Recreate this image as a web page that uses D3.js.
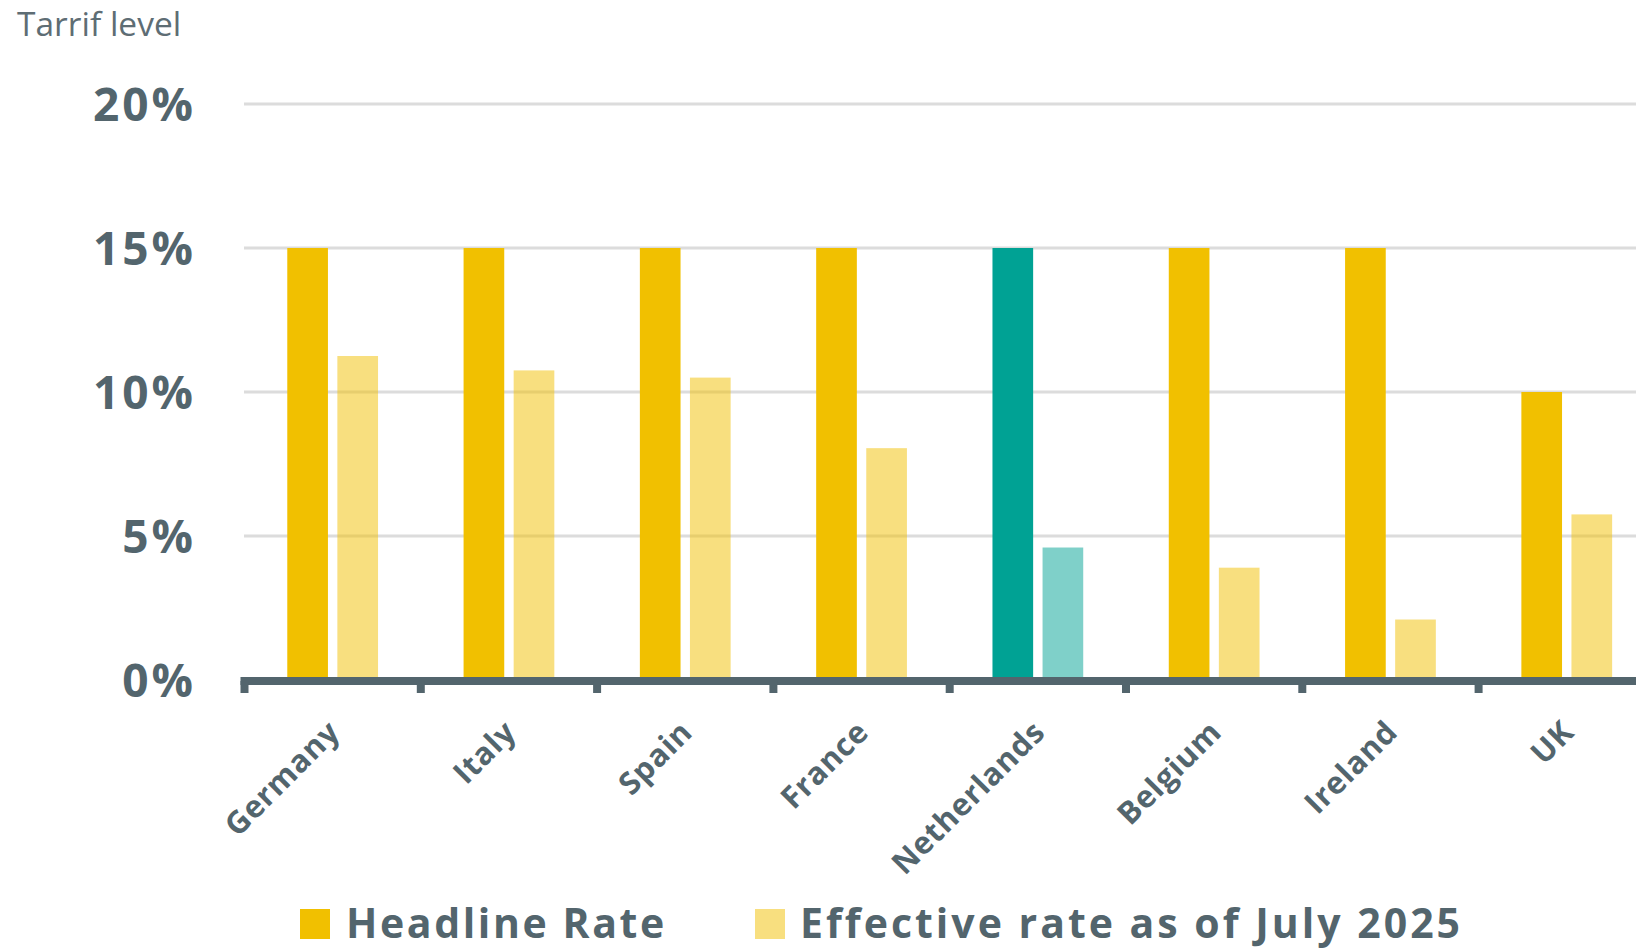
<!DOCTYPE html>
<html>
<head>
<meta charset="utf-8">
<script src="https://cdn.jsdelivr.net/npm/d3@7"></script>
<style>
  html, body { margin: 0; padding: 0; background: #fff; }
  svg { display: block; }
</style>
</head>
<body>
<svg width="1636" height="951"></svg>
<script>
/////////////////////////////////
// Tariff level bar chart.
//

const countries = ["Germany", "Italy", "Spain", "France", "Netherlands", "Belgium", "Ireland", "UK"];
const headlineRate = [15, 15, 15, 15, 15, 15, 15, 10];
const effectiveRate = [11.25, 10.75, 10.5, 8.05, 4.6, 3.9, 2.1, 5.75];
const seriesNames = ["Headline Rate", "Effective rate as of July 2025"];
const yTicks = [0, 5, 10, 15, 20];
const highlighted = "Netherlands";

document.addEventListener("DOMContentLoaded", () => {

    const svg = d3.select("svg");

    const textColor = "#53656d";
    const yellow = "#f1c000";
    const teal = "#00a294";

    // Scales.
    const y = d3.scaleLinear()
        .domain([0, 20])
        .range([680, 104]);

    const x0 = d3.scaleBand()
        .domain(countries)
        .range([244.5, 244.5 + countries.length * 176.3])
        .padding(0);

    const x1 = d3.scaleBand()
        .domain([0, 1])
        .range([0, x0.bandwidth()])
        .paddingInner(0.188)
        .paddingOuter(0.854);

    // Title.
    svg.append("text")
        .attr("x", 17)
        .attr("y", 36)
        .style("font-family", "'Open Sans', sans-serif")
        .style("font-size", "33.5px")
        .style("fill", "#5e6d74")
        .text("Tarrif level");

    // Grid lines.
    svg.append("g")
        .selectAll("line")
        .data(yTicks.filter((d) => d > 0))
        .enter()
        .append("line")
        .attr("x1", 244)
        .attr("x2", 1636)
        .attr("y1", (d) => y(d))
        .attr("y2", (d) => y(d))
        .style("stroke", "#dcdcdc")
        .style("stroke-width", 3);

    // Y tick labels.
    svg.append("g")
        .selectAll("text")
        .data(yTicks)
        .enter()
        .append("text")
        .attr("x", 196)
        .attr("y", (d) => y(d) + 17)
        .attr("text-anchor", "end")
        .style("font-family", "'Open Sans', sans-serif")
        .style("font-weight", "700")
        .style("font-size", "46px")
        .style("letter-spacing", "3px")
        .style("fill", textColor)
        .text((d) => d + "%");

    // Bars.
    const rows = countries.map((c, i) => ({
        country: c,
        values: [headlineRate[i], effectiveRate[i]]
    }));

    const groups = svg.append("g")
        .selectAll("g")
        .data(rows)
        .enter()
        .append("g")
        .attr("transform", (d) => "translate(" + x0(d.country) + ",0)");

    groups.selectAll("rect")
        .data((d) => d.values.map((v, k) => ({ country: d.country, k: k, v: v })))
        .enter()
        .append("rect")
        .attr("x", (d) => x1(d.k))
        .attr("width", x1.bandwidth())
        .attr("y", (d) => y(d.v))
        .attr("height", (d) => y(0) - y(d.v))
        .style("fill", (d) => d.country === highlighted ? teal : yellow)
        .style("fill-opacity", (d) => d.k === 0 ? 1 : 0.5);

    // X axis line and ticks at band edges.
    const axis = svg.append("g");
    axis.append("line")
        .attr("x1", x0.range()[0] - 4)
        .attr("x2", 1636)
        .attr("y1", 681)
        .attr("y2", 681)
        .style("stroke", textColor)
        .style("stroke-width", 8);

    axis.selectAll(".tick")
        .data(countries)
        .enter()
        .append("line")
        .attr("class", "tick")
        .attr("x1", (d) => x0(d))
        .attr("x2", (d) => x0(d))
        .attr("y1", 681)
        .attr("y2", 693)
        .style("stroke", textColor)
        .style("stroke-width", 8);

    axis.selectAll(".label")
        .data(countries)
        .enter()
        .append("text")
        .attr("class", "label")
        .attr("transform", (d) => "translate(" + (x0(d) + x0.bandwidth() / 2 + 9) + ",734) rotate(-45)")
        .attr("text-anchor", "end")
        .style("font-family", "'Open Sans', sans-serif")
        .style("font-weight", "700")
        .style("font-size", "31px")
        .style("letter-spacing", "0.7px")
        .style("fill", textColor)
        .text((d) => d);

    // Legend.
    const legendX = [300, 755];
    const legend = svg.append("g")
        .selectAll("g")
        .data(seriesNames)
        .enter()
        .append("g")
        .attr("transform", (d, i) => "translate(" + legendX[i] + ",909)");

    legend.append("rect")
        .attr("width", 30)
        .attr("height", 30)
        .style("fill", yellow)
        .style("fill-opacity", (d, i) => i === 0 ? 1 : 0.5);

    legend.append("text")
        .attr("x", (d, i) => i === 0 ? 46 : 45)
        .attr("y", 29)
        .style("font-family", "'Open Sans', sans-serif")
        .style("font-weight", "700")
        .style("font-size", "41px")
        .style("letter-spacing", (d, i) => i === 0 ? "2.6px" : "3px")
        .style("fill", textColor)
        .text((d) => d);
});
</script>
</body>
</html>
